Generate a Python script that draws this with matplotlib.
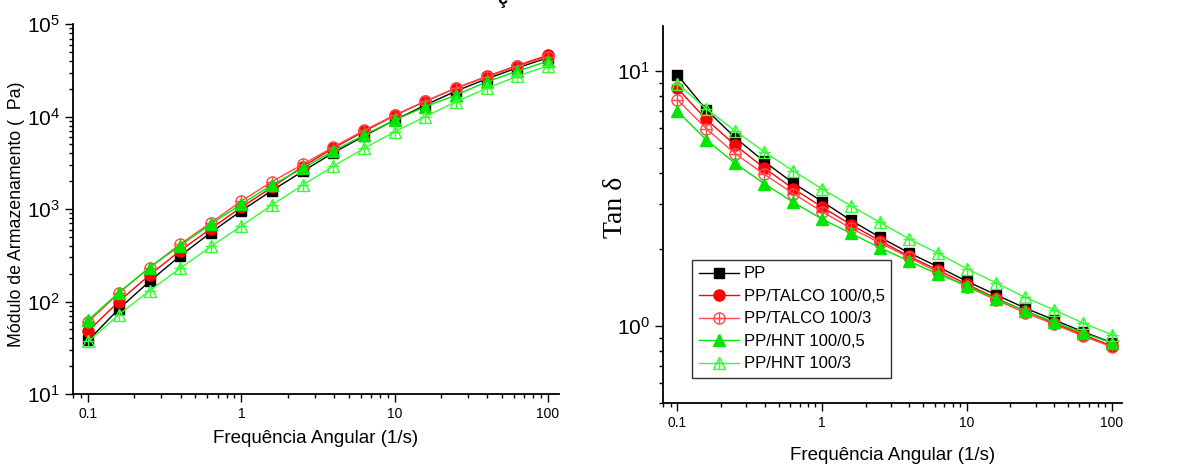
import matplotlib
matplotlib.use("Agg")
import matplotlib.pyplot as plt
from matplotlib.ticker import LogLocator, NullFormatter

plt.rcParams["font.family"] = ["Liberation Sans", "DejaVu Sans"]
plt.rcParams["mathtext.fontset"] = "custom"
plt.rcParams["mathtext.rm"] = "Liberation Sans"

# ── Data ─────────────────────────────────────────────────────────────────────
freq = [0.1, 0.158, 0.251, 0.398, 0.631, 1.0, 1.58, 2.51, 3.98, 6.31,
        10.0, 15.8, 25.1, 39.8, 63.1, 100.0]

labels = ["PP", "PP/TALCO 100/0,5", "PP/TALCO 100/3", "PP/HNT 100/0,5", "PP/HNT 100/3"]

# storage modulus (Pa)
g_pp = [38, 83, 165, 312, 557, 962, 1585, 2560, 4070, 6170,
        9180, 13300, 18900, 25600, 33700, 43300]
g_talco05 = [48, 100, 193, 355, 615, 1050, 1720, 2880, 4570, 6920,
             10300, 14600, 20400, 27200, 35700, 46200]
g_talco3 = [60, 123, 233, 417, 714, 1225, 1980, 3050, 4700, 7100,
            10400, 14700, 20300, 26800, 35000, 44500]
g_hnt05 = [63, 125, 233, 403, 690, 1135, 1820, 2760, 4250, 6310,
           9180, 12800, 17100, 23800, 31000, 39800]
g_hnt3 = [37, 72, 131, 229, 394, 658, 1110, 1820, 2920, 4540,
          6870, 9980, 14500, 20200, 27400, 35500]

# tan delta
t_pp = [9.65, 7.06, 5.48, 4.42, 3.64, 3.08, 2.60, 2.23, 1.94, 1.71,
        1.50, 1.33, 1.18, 1.06, 0.953, 0.863]
t_talco05 = [8.55, 6.47, 5.12, 4.17, 3.46, 2.93, 2.50, 2.16, 1.88, 1.66,
             1.46, 1.29, 1.15, 1.03, 0.927, 0.838]
t_talco3 = [7.72, 5.95, 4.74, 3.94, 3.31, 2.81, 2.42, 2.12, 1.86, 1.63,
            1.43, 1.27, 1.13, 1.02, 0.916, 0.83]
t_hnt05 = [6.95, 5.38, 4.34, 3.62, 3.06, 2.63, 2.31, 2.03, 1.80, 1.60,
           1.44, 1.28, 1.15, 1.04, 0.942, 0.861]
t_hnt3 = [8.92, 7.11, 5.82, 4.82, 4.06, 3.45, 2.96, 2.55, 2.20, 1.93,
          1.68, 1.48, 1.30, 1.16, 1.03, 0.927]

# ── Styles ───────────────────────────────────────────────────────────────────
# (color, marker, filled, overlay-plus)
STYLES = [
    ("#000000", "s", True, False),
    ("#ff0000", "o", True, False),
    ("#ff4a4a", "o", False, True),
    ("#00e600", "^", True, False),
    ("#33ff33", "^", False, True),
]


def draw(ax, series):
    handles = []
    for ys, (color, mk, filled, plus) in zip(series, STYLES):
        ms = 8 if mk != "s" else 7.5
        h, = ax.plot(freq, ys, color=color, lw=1.0, marker=mk, ms=ms,
                     mfc=color if filled else "none", mec=color, mew=1.0)
        if plus:
            hp, = ax.plot(freq, ys, ls="none", marker="+", ms=ms, mec=color, mew=1.0)
            handles.append((h, hp))
        else:
            handles.append(h)
    return handles


def style_axis(ax, xpad):
    ax.set_xscale("log")
    ax.set_yscale("log")
    ax.set_xlim(0.0795, 118)
    for s in ("top", "right"):
        ax.spines[s].set_visible(False)
    for s in ("left", "bottom"):
        ax.spines[s].set_linewidth(1.3)
    ax.tick_params(which="both", direction="out", width=1.0)
    ax.tick_params(which="major", length=6)
    ax.tick_params(which="minor", length=3)
    ax.tick_params(axis="x", labelsize=10)
    ax.tick_params(axis="y", labelsize=15)
    ax.set_xticks([0.1, 1, 10, 100], ["0.1", "1", "10", "100"])
    ax.xaxis.set_minor_locator(LogLocator(base=10, subs=range(2, 10), numticks=20))
    ax.xaxis.set_minor_formatter(NullFormatter())
    ax.yaxis.set_minor_locator(LogLocator(base=10, subs=range(2, 10), numticks=20))
    ax.yaxis.set_minor_formatter(NullFormatter())
    ax.set_xlabel("Frequência Angular (1/s)", fontsize=13.5, labelpad=xpad)


fig = plt.figure(figsize=(11.83, 4.65), dpi=100)
ax1 = fig.add_axes([0.0617, 0.1527, 0.4108, 0.7953])
ax2 = fig.add_axes([0.5604, 0.1333, 0.3880, 0.8107])

draw(ax1, [g_pp, g_talco05, g_talco3, g_hnt05, g_hnt3])
style_axis(ax1, 6)
ax1.set_ylim(10, 1e5)
ax1.set_ylabel("Módulo de Armazenamento (  Pa)", fontsize=12.8)
ax1.yaxis.set_label_coords(-0.099, 0.486)

handles = draw(ax2, [t_pp, t_talco05, t_talco3, t_hnt05, t_hnt3])
style_axis(ax2, 12)
ax2.set_ylim(0.5, 15)
ax2.set_ylabel("Tan δ", fontsize=20, family="Liberation Serif")
ax2.yaxis.set_label_coords(-0.076, 0.52)

leg = ax2.legend(handles, labels, loc="lower left", bbox_to_anchor=(0.063, 0.066),
                 fontsize=12, frameon=True, fancybox=False, handlelength=2.4,
                 handletextpad=0.3, borderpad=0.4, labelspacing=0.45, borderaxespad=0)
leg.get_frame().set_edgecolor("black")
leg.get_frame().set_linewidth(1.0)

# clipped title remnant at the very top
fig.text(0.4245, 1.0, "ç", fontsize=13, fontweight="bold", ha="center", va="center")

fig.savefig("out.png", dpi=100)
